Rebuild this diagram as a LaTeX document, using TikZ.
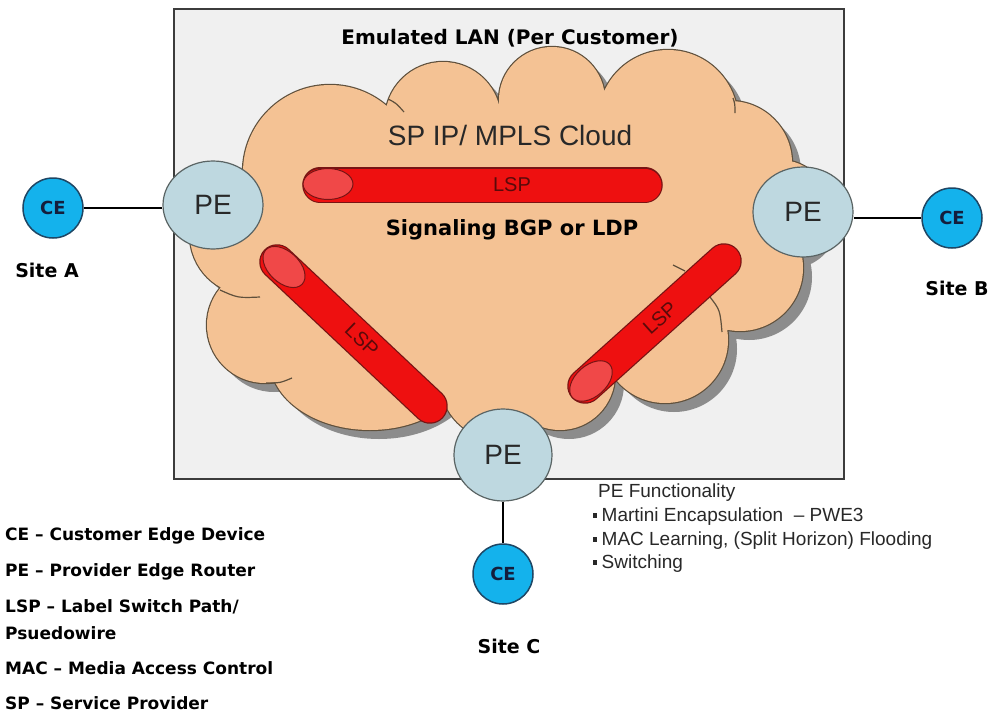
\documentclass[tikz,border=0pt]{standalone}
\usepackage{fontspec}
\setmainfont{Liberation Sans}
\newfontfamily\dvb{DejaVu Sans}
\usetikzlibrary{shapes.geometric}
\definecolor{rectfill}{RGB}{240,240,240}
\definecolor{rectline}{RGB}{60,60,60}
\definecolor{cloudfill}{RGB}{244,194,148}
\definecolor{cloudline}{RGB}{95,80,60}
\definecolor{cloudshadow}{RGB}{140,140,140}
\definecolor{pefill}{RGB}{190,216,224}
\definecolor{peline}{RGB}{90,100,100}
\definecolor{cefill}{RGB}{20,178,236}
\definecolor{celine}{RGB}{30,70,100}
\definecolor{cetext}{RGB}{20,30,60}
\definecolor{lspred}{RGB}{238,16,16}
\definecolor{lspcap}{RGB}{240,72,72}
\definecolor{lspline}{RGB}{120,20,20}
\definecolor{lsptext}{RGB}{90,10,10}
\definecolor{textdark}{RGB}{40,40,40}
\def\cloudcircles{330/172/87, 443/120/58, 552/100/53, 668/120/70, 730/163/62, 780/210/50, 740/268/63, 665/340/63, 560/375/55, 500/380/60, 265/325/58, 250/235/60}
\def\cloudpoly{(250,235) -- (330,172) -- (443,120) -- (552,100) -- (668,120) -- (730,163) -- (780,210) -- (740,268) -- (665,340) -- (560,375) -- (500,380) -- (370,360) -- (265,325) -- cycle}
\begin{document}
\begin{tikzpicture}[x=1pt,y=-1pt,
  pe/.style={ellipse, minimum width=100, minimum height=88, inner sep=0, fill=pefill, draw=peline, line width=1.2, font=\fontsize{28}{28}\selectfont, text=textdark},
  ce/.style={circle, minimum size=60, inner sep=0, fill=cefill, draw=celine, line width=1.5, font=\dvb\bfseries\fontsize{18}{18}\selectfont, text=cetext},
  boldlbl/.style={font=\dvb\bfseries\fontsize{19}{19}\selectfont, text=black},
  legend/.style={anchor=west, font=\dvb\bfseries\fontsize{17}{17}\selectfont, text=black, inner sep=0},
  func/.style={anchor=west, font=\fontsize{19}{19}\selectfont, text=textdark, inner sep=0},
  tubeout/.style={line width=35.5, line cap=round, draw=lspline},
  tubein/.style={line width=33, line cap=round, draw=lspred},
  capell/.style={draw=lspline, fill=lspcap, line width=1},
  lsplbl/.style={font=\fontsize{20}{20}\selectfont, text=lsptext, inner sep=0},
  tail/.style={draw=cloudline, line width=1.2}
]
\useasboundingbox (0,0) rectangle (994,715);
\fill[white] (0,0) rectangle (994,715);
% emulated LAN box
\draw[rectline, fill=rectfill, line width=1.5] (174,9) rectangle (844,479);
% cloud shadow
\begin{scope}[shift={(9,9)}]
  \fill[cloudshadow] foreach \x/\y/\r in \cloudcircles {(\x,\y) circle[radius=\r]};
  \fill[cloudshadow] (370,360) ellipse[x radius=100, y radius=70];
  \fill[cloudshadow] \cloudpoly;
\end{scope}
% cloud outline and fill
\draw[cloudline, line width=2.4] foreach \x/\y/\r in \cloudcircles {(\x,\y) circle[radius=\r]};
\draw[cloudline, line width=2.4] (370,360) ellipse[x radius=100, y radius=70];
\fill[cloudfill] foreach \x/\y/\r in \cloudcircles {(\x,\y) circle[radius=\r]};
\fill[cloudfill] (370,360) ellipse[x radius=100, y radius=70];
\fill[cloudfill] \cloudpoly;
% cloud inner tails
\draw[tail] (388,99) .. controls (396,103) .. (404,112);
\draw[tail] (733,98) .. controls (735,104) .. (735,113);
\draw[tail] (220,290) .. controls (238,298) .. (260,297);
\draw[tail] (266,383) .. controls (280,383) .. (292,378);
\draw[tail] (710,297) .. controls (720,310) .. (722,332);
\draw[tail] (673,265) -- (685,271);
% LSP tubes
\coordinate (h1) at (320,185);
\coordinate (h2) at (645,185);
\coordinate (l1) at (277,262);
\coordinate (l2) at (430,406);
\coordinate (r1) at (585,386);
\coordinate (r2) at (724,261);
\draw[tubeout] (h1) -- (h2);
\draw[tubein] (h1) -- (h2);
\draw[tubeout] (l1) -- (l2);
\draw[tubein] (l1) -- (l2);
\draw[tubeout] (r1) -- (r2);
\draw[tubein] (r1) -- (r2);
\draw[capell] (328,184) ellipse[x radius=25, y radius=15.5];
\draw[capell, rotate around={-43.5:(284,267)}] (284,267) ellipse[x radius=25, y radius=15.5];
\draw[capell, rotate around={41.7:(591,381)}] (591,381) ellipse[x radius=25, y radius=15.5];
\node[lsplbl] (lsph) at (512,185) {LSP};
\node[lsplbl, rotate=-44] (lspl) at (362,340) {LSP};
\node[lsplbl, rotate=42] (lspr) at (660,318) {LSP};
% texts in box
\node[font=\dvb\bfseries\fontsize{20}{20}\selectfont] (title) at (510,38) {Emulated LAN (Per Customer)};
\node[font=\fontsize{28}{28}\selectfont, text=textdark] (cloudlbl) at (510,135) {SP IP/ MPLS Cloud};
\node[font=\dvb\bfseries\fontsize{21}{21}\selectfont] (sig) at (512,230) {Signaling BGP or LDP};
% PE and CE
\node[pe] (peA) at (213,205) {PE};
\node[pe, minimum height=90] (peB) at (803,212) {PE};
\node[pe, minimum width=98, minimum height=92] (peC) at (503,455) {PE};
\node[ce] (ceA) at (53,208) {CE};
\node[ce] (ceB) at (952,218) {CE};
\node[ce] (ceC) at (503,574) {CE};
\draw[black, line width=1.2] (ceA) -- (ceA -| peA.west);
\draw[black, line width=1.2] (ceB) -- (ceB -| peB.east);
\draw[black, line width=1.2] (peC) -- (ceC);
% site labels
\node[boldlbl] (siteA) at (47,270) {Site A};
\node[boldlbl] (siteB) at (957,288) {Site B};
\node[boldlbl] (siteC) at (509,646) {Site C};
% PE functionality
\node[func] (pef) at (598,493) {PE Functionality};
\node[func] (pef1) at (593,517) {\rule[0.22em]{3.5pt}{4.5pt}\hspace{5pt}Martini Encapsulation \ – PWE3};
\node[func] (pef2) at (593,541) {\rule[0.22em]{3.5pt}{4.5pt}\hspace{5pt}MAC Learning, (Split Horizon) Flooding};
\node[func] (pef3) at (593,564) {\rule[0.22em]{3.5pt}{4.5pt}\hspace{5pt}Switching};
% legend
\node[legend] (lg1) at (5,536) {CE – Customer Edge Device};
\node[legend] (lg2) at (5,572) {PE – Provider Edge Router};
\node[legend] (lg3) at (5,607) {LSP – Label Switch Path/};
\node[legend] (lg4) at (5,633) {Psuedowire};
\node[legend] (lg5) at (5,668) {MAC – Media Access Control};
\node[legend] (lg6) at (5,703) {SP – Service Provider};
\end{tikzpicture}
\end{document}
